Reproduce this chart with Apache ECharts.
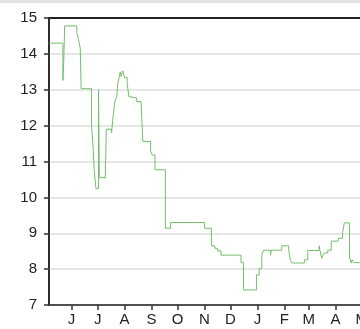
<!DOCTYPE html>
<html>
<head>
<meta charset="utf-8">
<script src="https://cdn.jsdelivr.net/npm/echarts@6/dist/echarts.min.js"></script>
<style>
  html, body { margin: 0; padding: 0; background: #fff; }
  #chart { width: 360px; height: 329px; }
</style>
</head>
<body>
<div id="chart"></div>
<script>
// price steps: [date, value]
var priceDates = [
	'2010-05-06','2010-05-22','2010-05-23','2010-05-24','2010-06-07','2010-06-09','2010-06-11','2010-06-12',
	'2010-06-24','2010-06-26','2010-06-27','2010-06-29','2010-07-02','2010-07-03','2010-07-10','2010-07-11',
	'2010-07-17','2010-07-19','2010-07-21','2010-07-23','2010-07-24','2010-07-26','2010-07-27','2010-07-28',
	'2010-07-30','2010-08-01','2010-08-04','2010-08-06','2010-08-08','2010-08-15','2010-08-20','2010-08-22',
	'2010-08-31','2010-09-02','2010-09-05','2010-09-17','2010-09-23','2010-11-01','2010-11-09','2010-11-13',
	'2010-11-16','2010-11-20','2010-12-13','2010-12-16','2010-12-31','2011-01-03','2011-01-06','2011-01-08',
	'2011-01-16','2011-01-17','2011-01-29','2011-02-06','2011-02-08','2011-02-10','2011-02-24','2011-02-28',
	'2011-03-13','2011-03-14','2011-03-16','2011-03-17','2011-03-19','2011-03-23','2011-03-27','2011-04-04',
	'2011-04-09','2011-04-11','2011-04-17','2011-04-19','2011-04-20','2011-04-22','2011-05-06'
];
var priceValues = [
	14.30, 13.26, 13.80, 14.78, 14.60, 14.40, 14.15, 13.03,
	12.00, 11.30, 10.77, 10.25, 13.00, 10.55, 10.75, 11.90,
	11.80, 12.30, 12.70, 12.80, 13.14, 13.37, 13.50, 13.37,
	13.53, 13.34, 13.18, 12.81, 12.77, 12.67, 12.62, 11.56,
	11.28, 11.18, 10.77, 9.14, 9.30, 9.14, 8.65, 8.58,
	8.51, 8.39, 8.19, 7.42, 7.84, 8.02, 8.39, 8.53,
	8.39, 8.53, 8.65, 8.53, 8.24, 8.17, 8.26, 8.52,
	8.65, 8.52, 8.30, 8.37, 8.45, 8.53, 8.78, 8.86,
	9.02, 9.29, 8.33, 8.17, 8.26, 8.18, 8.20
];
var monthTicks = [
	'2010-06-01','2010-07-01','2010-08-01','2010-09-01','2010-10-01','2010-11-01',
	'2010-12-01','2011-01-01','2011-02-01','2011-03-01','2011-04-01','2011-05-01'
];
var monthLetters = 'JFMAMJJASOND';

var xMin = '2010-05-06', xMax = '2011-05-06';

function ts(d){ return Date.UTC(+d.slice(0,4), +d.slice(5,7) - 1, +d.slice(8,10)); }

function initChart(){
	var chart = echarts.init(document.getElementById('chart'), null, {renderer: 'canvas'});

	var seriesData = priceDates.map(function(d, i){ return [ts(d), priceValues[i]]; });
	var tickVals = monthTicks.map(ts);

	var option = {
		animation: false,
		textStyle: { fontFamily: 'Liberation Sans, Arial, sans-serif' },
		graphic: [{
			type: 'rect', left: 0, top: 0,
			shape: { width: 360, height: 3 },
			style: { fill: '#e4e4e4' }
		}],
		grid: {
			left: 49, top: 18, bottom: 24, right: -6,
			outerBoundsMode: 'none',
			containLabel: false,
			show: true, borderColor: '#222', borderWidth: 2
		},
		xAxis: {
			type: 'value',
			min: ts(xMin),
			max: ts(xMax),
			axisLine: { lineStyle: { color: '#333', width: 1.5 } },
			axisTick: { show: true, length: 5, customValues: tickVals, lineStyle: { color: '#333', width: 1.5 } },
			axisLabel: {
				customValues: tickVals,
				margin: 7,
				fontSize: 15,
				color: '#222',
				formatter: function(v){ return monthLetters.charAt(new Date(v).getUTCMonth()); }
			},
			splitLine: { show: false }
		},
		yAxis: {
			type: 'value',
			min: 7, max: 15, interval: 1,
			axisLine: { show: true, lineStyle: { color: '#333', width: 1.5 } },
			axisTick: { show: true, length: 5, lineStyle: { color: '#333', width: 1.5 } },
			axisLabel: { margin: 12, fontSize: 15, color: '#222' },
			splitLine: { showMaxLine: false, lineStyle: { color: '#dcdcdc', width: 1.5 } }
		},
		series: [{
			type: 'line',
			step: 'end',
			showSymbol: false,
			data: seriesData,
			lineStyle: { color: '#72bf6a', width: 1 }
		}]
	};

	chart.setOption(option);
}

initChart();
</script>
</body>
</html>
